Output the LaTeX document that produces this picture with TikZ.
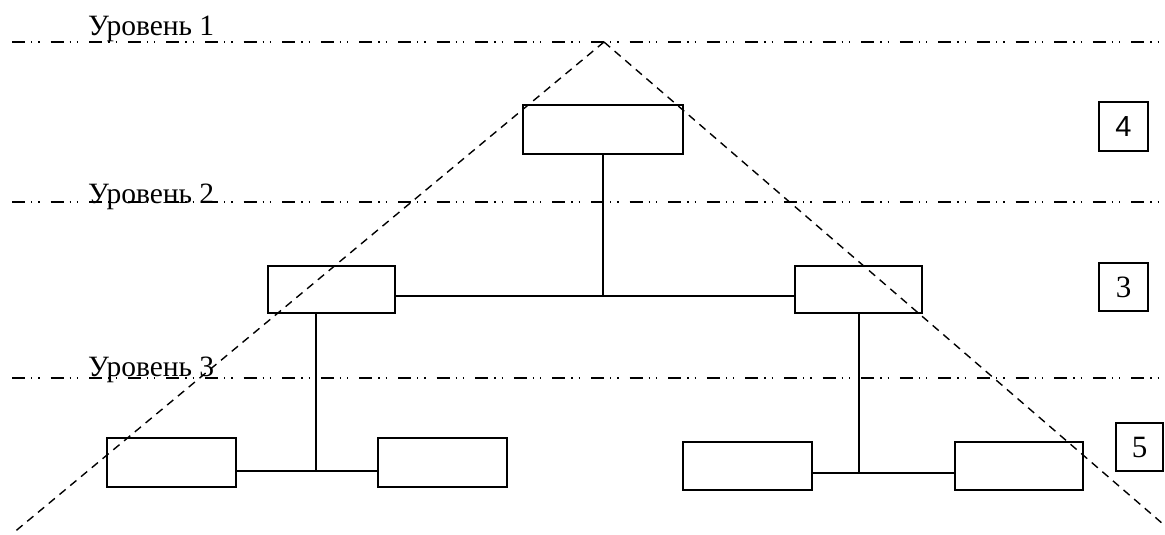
\documentclass[tikz,border=0pt]{standalone}
\usepackage{fontspec}
\setmainfont{Liberation Serif}
\newfontfamily\numsans{Liberation Sans}
\begin{document}
\begin{tikzpicture}[x=1pt,y=-1pt,
  blk/.style={draw,line width=1.6pt,inner sep=0pt,minimum width=128pt,minimum height=48pt},
  numbox/.style={draw,line width=1.4pt,inner sep=0pt,minimum width=48pt,minimum height=48pt,font=\fontsize{30}{34}\selectfont},
  levelline/.style={line width=1.3pt,dash pattern=on 13pt off 6pt on 1.3pt off 6pt on 1.3pt off 11pt},
  cone/.style={line width=1.4pt,dash pattern=on 8pt off 6pt},
  conn/.style={line width=1.5pt},
  lvl/.style={anchor=base west,inner sep=0pt,font=\fontsize{29.5}{33}\selectfont}]
\useasboundingbox (0,0) rectangle (1165,535);
% level lines
\coordinate (l1a) at (12,42); \coordinate (l1b) at (1165,42);
\coordinate (l2a) at (12,202); \coordinate (l2b) at (1165,202);
\coordinate (l3a) at (12,378); \coordinate (l3b) at (1165,378);
\draw[levelline] (l1a) -- (l1b);
\draw[levelline] (l2a) -- (l2b);
\draw[levelline] (l3a) -- (l3b);
\node[lvl] (t1) at (88,36) {Уровень 1};
\node[lvl] (t2) at (88,203) {Уровень 2};
\node[lvl] (t3) at (88,376) {Уровень 3};
% cone
\coordinate (apex) at (604,42);
\coordinate (cl) at (12,534);
\coordinate (cr) at (1163,524);
\draw[cone] (apex) -- (cl);
\draw[cone] (apex) -- (cr);
% boxes
\node[blk,minimum width=160pt,minimum height=49pt] (top) at (603,129.5) {};
\node[blk,minimum width=127pt,minimum height=47pt] (ml) at (331.5,289.5) {};
\node[blk,minimum width=127pt,minimum height=47pt] (mr) at (858.5,289.5) {};
\node[blk,minimum width=129pt,minimum height=49pt] (bl1) at (171.5,462.5) {};
\node[blk,minimum width=129pt,minimum height=49pt] (bl2) at (442.5,462.5) {};
\node[blk,minimum width=129pt,minimum height=48pt] (br1) at (747.5,466) {};
\node[blk,minimum width=128pt,minimum height=48pt] (br2) at (1019,466) {};
% connectors
\coordinate (j1) at (603,296);
\draw[conn] (top.south) -- (j1);
\draw[conn] (ml.east |- j1) -- (mr.west |- j1);
\coordinate (j2) at (316,471);
\draw[conn] (ml.south -| j2) -- (j2);
\draw[conn] (bl1.east |- j2) -- (bl2.west |- j2);
\coordinate (j3) at (859,472);
\coordinate (j3h) at (859,473);
\draw[conn] (mr.south -| j3) -- (j3);
\draw[conn] (br1.east |- j3h) -- (br2.west |- j3h);
% number boxes
\node[numbox,font=\numsans\fontsize{29}{34}\selectfont,minimum width=49pt,minimum height=49pt] (n4) at (1123.5,126.5) {4};
\node[numbox,font=\fontsize{31}{34}\selectfont,minimum width=49pt] (n3) at (1123.5,287) {3};
\node[numbox,font=\fontsize{31}{34}\selectfont,minimum width=47pt] (n5) at (1139.5,447) {5};
\end{tikzpicture}
\end{document}
